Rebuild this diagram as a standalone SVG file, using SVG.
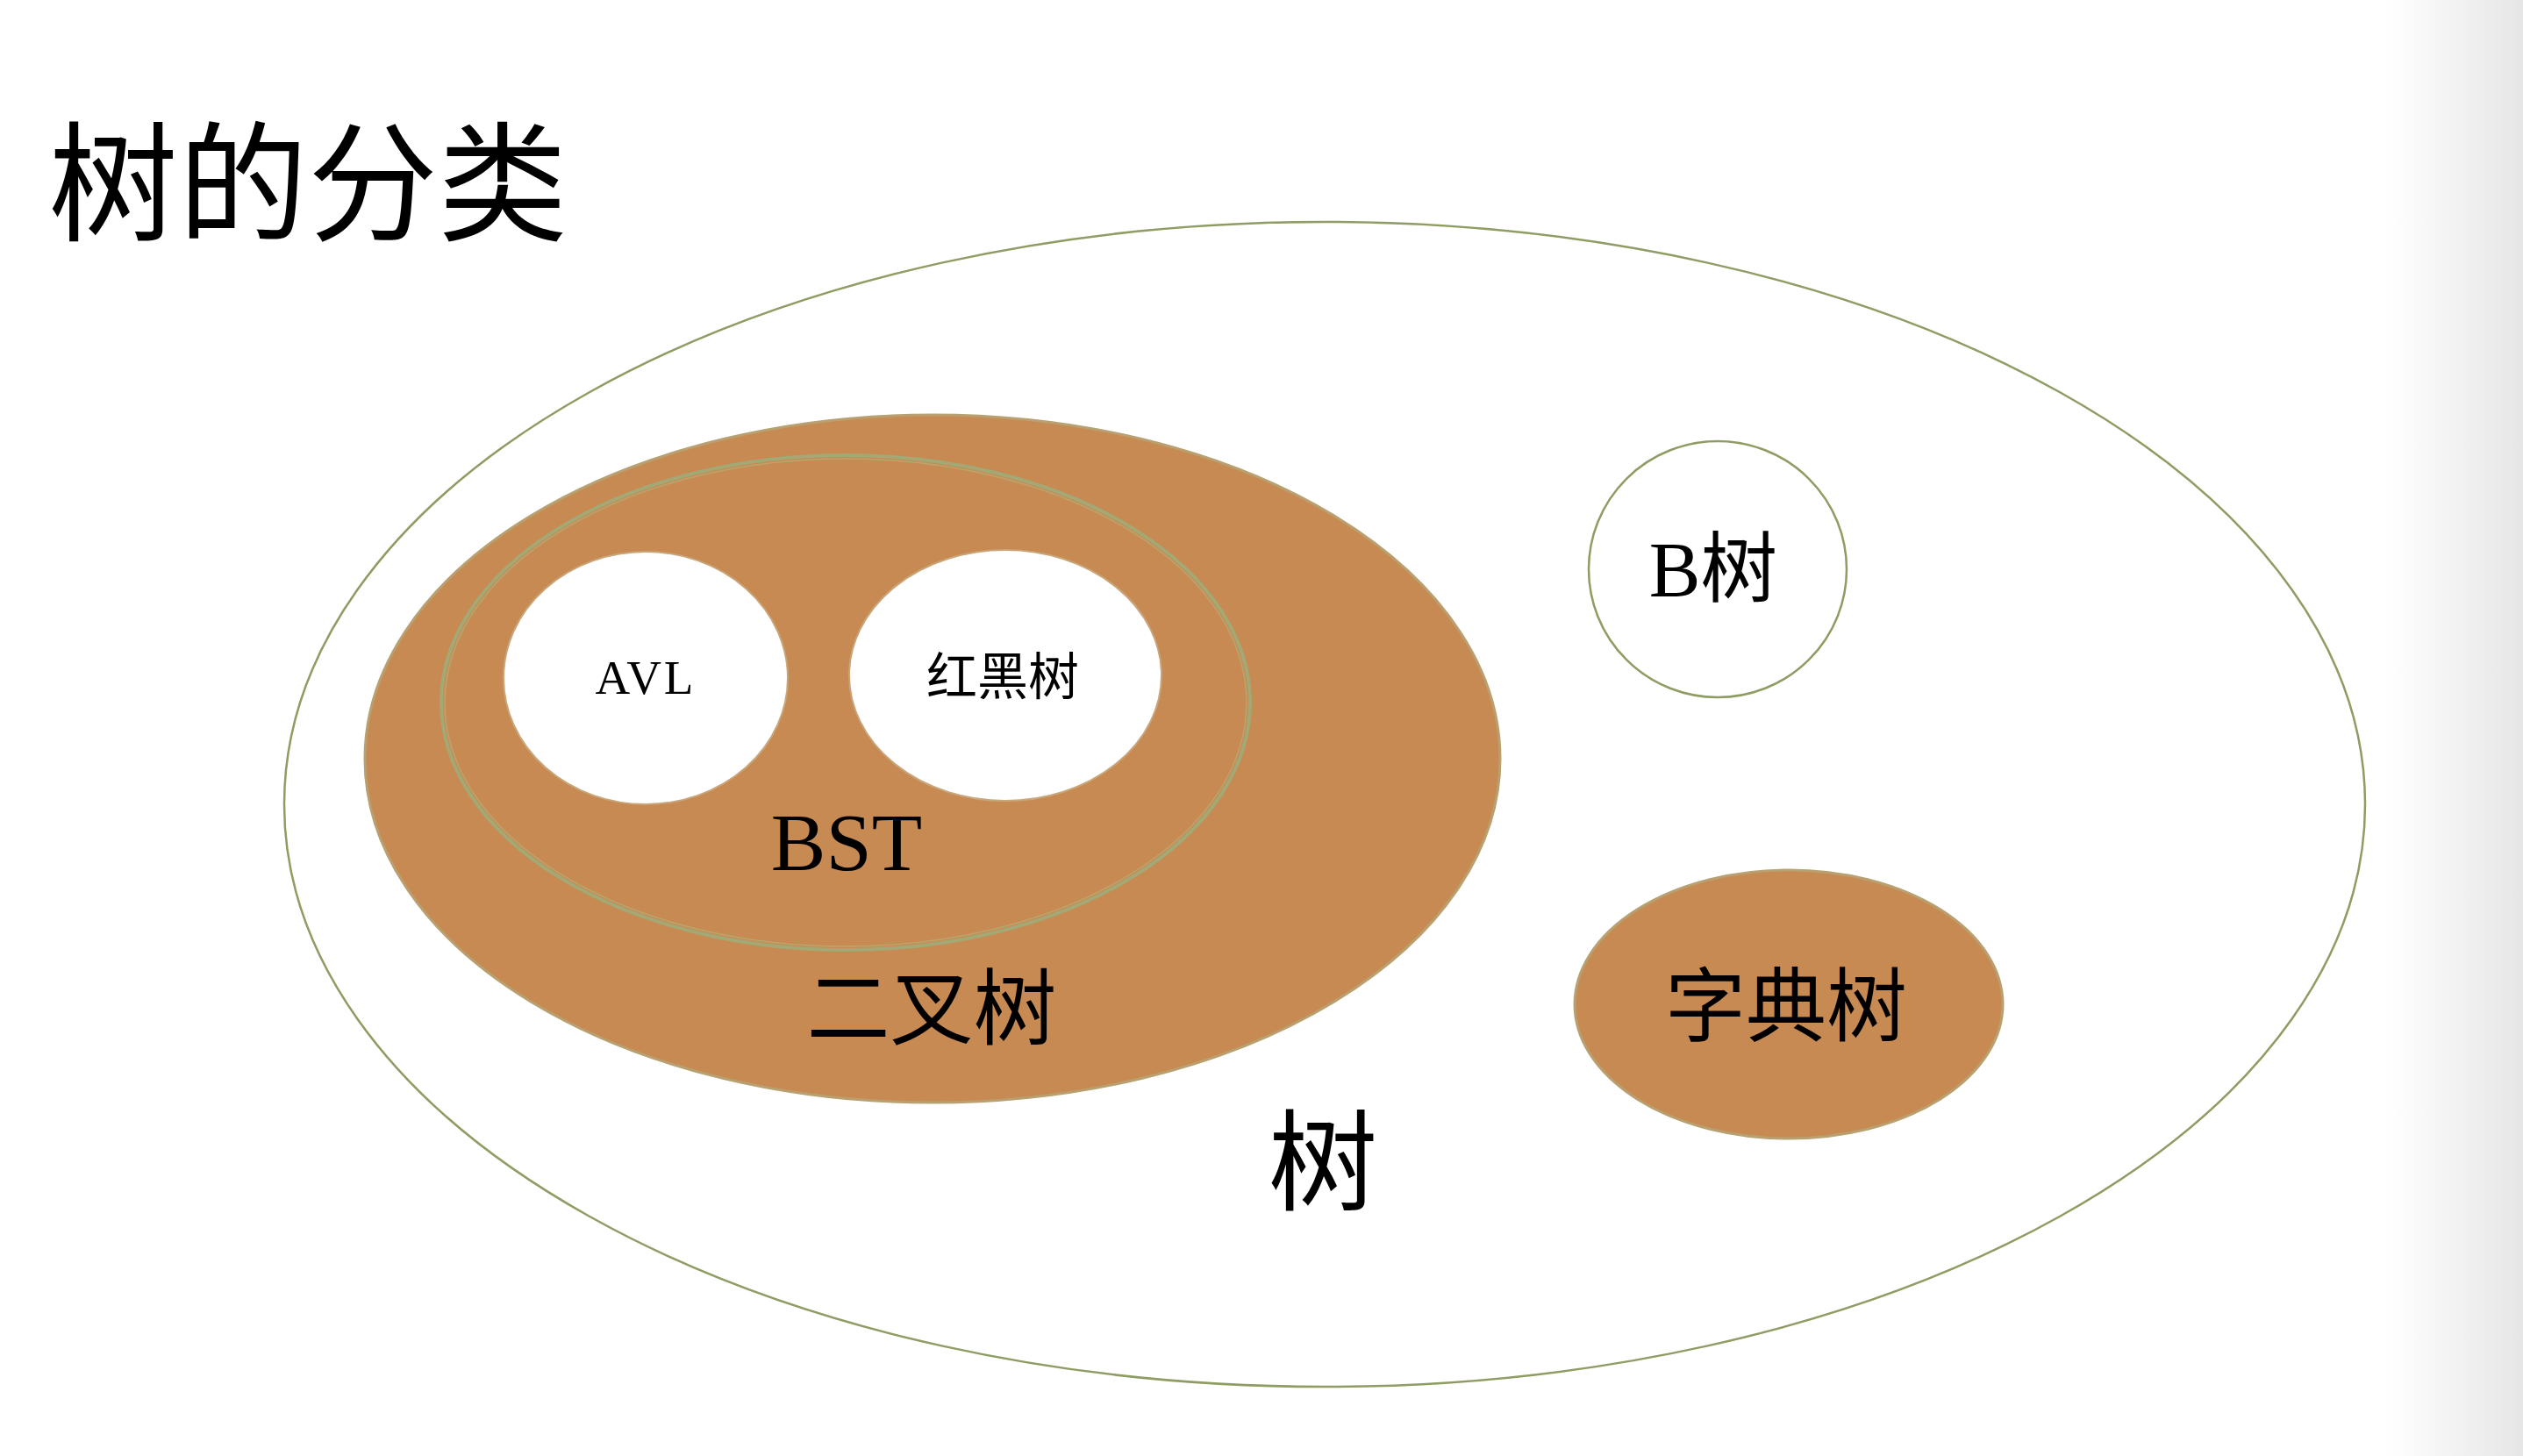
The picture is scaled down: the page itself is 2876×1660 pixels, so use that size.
<svg xmlns="http://www.w3.org/2000/svg" width="2876" height="1660" viewBox="0 0 2876 1660">
<defs>
<linearGradient id="edge" x1="0" y1="0" x2="1" y2="0">
<stop offset="0" stop-color="#ffffff"/>
<stop offset="1" stop-color="#e6e6e6"/>
</linearGradient>
</defs>
<style>
.t{font-family:"Liberation Serif","Noto Sans CJK SC",serif;fill:#000;text-anchor:middle}
.line{fill:none;stroke:#8f9c63;stroke-width:2.5}
.brown{fill:#c78a52;stroke:#b9a070;stroke-width:3}
.white{fill:#ffffff;stroke:#c9a57a;stroke-width:2}
</style>
<rect x="0" y="0" width="2876" height="1660" fill="#ffffff"/>
<rect x="2720" y="0" width="156" height="1660" fill="url(#edge)"/>
<g id="title"><text class="t" x="55" y="263" style="text-anchor:start" font-size="148">树的分类</text></g>
<g id="tree">
<ellipse cx="1510" cy="917" rx="1186" ry="664" fill="#ffffff" class="line"/>
<text class="t" x="1508" y="1370" font-size="125">树</text>
</g>
<g id="binary">
<ellipse cx="1063" cy="865" rx="647" ry="392" class="brown"/>
<text class="t" x="1062" y="1184" font-size="95">二叉树</text>
</g>
<g id="bst">
<ellipse cx="964" cy="801" rx="461" ry="282" fill="none" stroke="#a3a874" stroke-width="4"/>
<ellipse cx="964" cy="801" rx="457" ry="278" fill="none" stroke="#b8a66e" stroke-width="1.5"/>
<text class="t" x="965" y="992" font-size="94">BST</text>
</g>
<g id="avl">
<ellipse cx="736" cy="773" rx="162" ry="144" class="white"/>
<text class="t" x="736" y="791" font-size="55" letter-spacing="3">AVL</text>
</g>
<g id="rbtree">
<ellipse cx="1146" cy="770" rx="178" ry="143" class="white"/>
<text class="t" x="1143" y="792" font-size="58">红黑树</text>
</g>
<g id="btree">
<ellipse cx="1958" cy="649" rx="147" ry="146" fill="#ffffff" class="line"/>
<text class="t" x="1953" y="679" font-size="88">B树</text>
</g>
<g id="trie">
<ellipse cx="2039" cy="1145" rx="244" ry="153" class="brown"/>
<text class="t" x="2036" y="1180" font-size="92">字典树</text>
</g>
<g id="connectors"></g>
</svg>
